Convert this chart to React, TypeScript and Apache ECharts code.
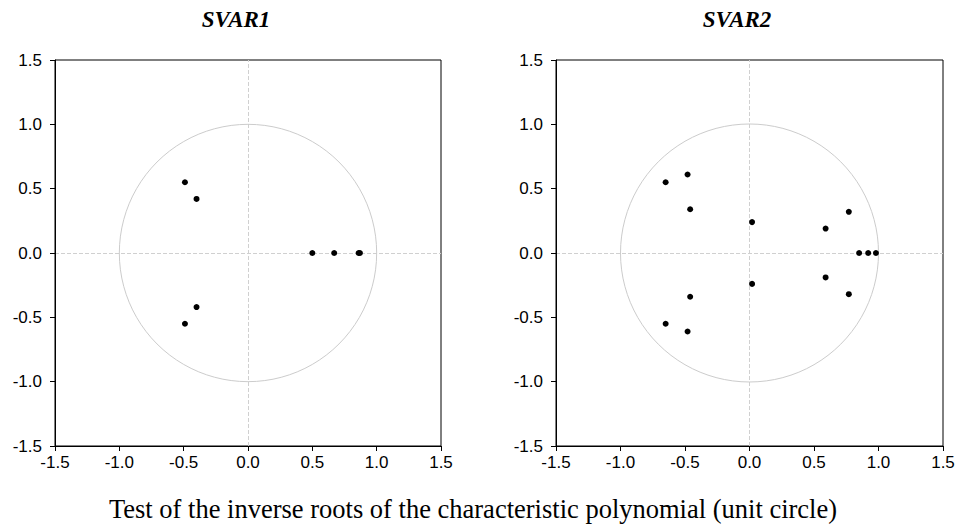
import React, { useEffect, useRef } from "react";
import * as echarts from "echarts";

const svar1Real = [-0.49, -0.49, -0.4, -0.4, 0.5, 0.67, 0.86, 0.87];
const svar1Imag = [0.55, -0.55, 0.42, -0.42, 0, 0, 0, 0];

const svar2Real = [-0.65, -0.65, -0.48, -0.48, -0.46, -0.46, 0.02, 0.02, 0.59, 0.59, 0.77, 0.77, 0.85, 0.92, 0.98];
const svar2Imag = [0.55, -0.55, 0.61, -0.61, 0.34, -0.34, 0.24, -0.24, 0.19, -0.19, 0.32, -0.32, 0, 0, 0];

const panelTitles = ["SVAR1", "SVAR2"];
const caption = "Test of the inverse roots of the characteristic polynomial (unit circle)";
const unitCircle = [[0, 0, 1]];

export default function App() {
  const ref = useRef<HTMLDivElement>(null);
  useEffect(() => {
    if (!ref.current) return;
    const chart = echarts.init(ref.current, null, { renderer: "svg" });
    const grids = [
      { left: 55, right: 517, top: 60, bottom: 81 },
      { left: 556, right: 15, top: 60, bottom: 81 },
    ];
    const axisCommon = {
      min: -1.5,
      max: 1.5,
      interval: 0.5,
      axisLine: { show: true, onZero: false, lineStyle: { color: "#000", width: 1 } },
      axisTick: { show: true, length: 5, inside: false, lineStyle: { color: "#000" } },
      axisLabel: {
        color: "#000",
        fontFamily: "Liberation Sans, Arial",
        fontSize: 17,
        formatter: (v: number) => v.toFixed(1),
      },
      splitLine: { show: false },
    };
    const datasets = [
      svar1Real.map((x, i) => [x, svar1Imag[i]]),
      svar2Real.map((x, i) => [x, svar2Imag[i]]),
    ];
    const series: any[] = [];
    [0, 1].forEach((i) => {
      series.push({
        type: "custom",
        xAxisIndex: i,
        yAxisIndex: i,
        silent: true,
        data: unitCircle,
        renderItem: (params: any, api: any) => {
          const c = api.coord([api.value(0), api.value(1)]);
          const r = api.size([api.value(2), 0])[0];
          return {
            type: "circle",
            shape: { cx: c[0], cy: c[1], r },
            style: { fill: "none", stroke: "#cccccc", lineWidth: 1 },
          };
        },
        z: 1,
      });
      series.push({
        type: "scatter",
        xAxisIndex: i,
        yAxisIndex: i,
        data: datasets[i],
        symbolSize: 6,
        itemStyle: { color: "#000", opacity: 1 },
        z: 5,
        markLine: {
          silent: true,
          symbol: "none",
          label: { show: false },
          lineStyle: { color: "#d0d0d0", type: [4, 2], width: 1 },
          data: [{ xAxis: 0 }, { yAxis: 0 }],
          z: 0,
        },
      });
    });
    chart.setOption({
      animation: false,
      backgroundColor: "#fff",
      title: [
        ...panelTitles.map((t, i) => ({
          text: t,
          left: i === 0 ? 231 : 732,
          top: 3,
          textAlign: "center",
          textStyle: {
            fontFamily: "Liberation Serif, Times New Roman",
            fontStyle: "italic",
            fontWeight: "bold",
            fontSize: 23,
            color: "#000",
          },
        })),
        {
          text: caption,
          left: 468,
          top: 490,
          textAlign: "center",
          textStyle: {
            fontFamily: "Liberation Serif, Times New Roman",
            fontWeight: "normal",
            fontSize: 26.5,
            color: "#000",
          },
        },
      ],
      grid: grids.map((g) => ({ ...g, show: true, borderColor: "#000", borderWidth: 1, backgroundColor: "transparent" })),
      xAxis: [0, 1].map((i) => ({
        ...axisCommon,
        type: "value",
        gridIndex: i,
        position: "bottom",
        axisLabel: { ...axisCommon.axisLabel, margin: 8 },
      })),
      yAxis: [0, 1].map((i) => ({
        ...axisCommon,
        type: "value",
        gridIndex: i,
        position: "left",
        axisLabel: { ...axisCommon.axisLabel, margin: 13 },
      })),
      series,
    });
    return () => chart.dispose();
  }, []);
  return <div ref={ref} style={{ position: "fixed", left: 0, top: 0, width: 958, height: 527 }} />;
}
